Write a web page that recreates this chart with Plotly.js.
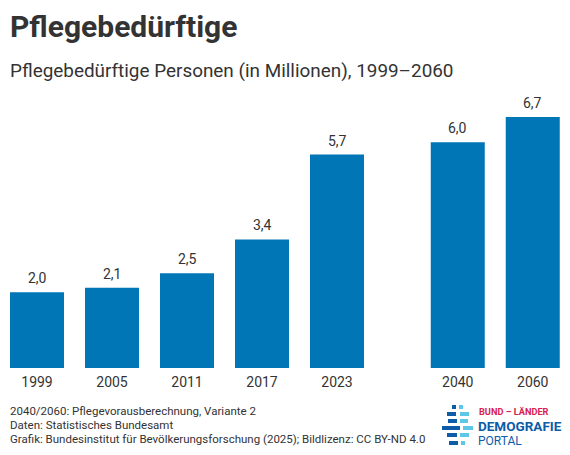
<!DOCTYPE html>
<html><head><meta charset="utf-8">
<script src="https://cdn.plot.ly/plotly-3.0.1.min.js"></script>
<style>html,body{margin:0;padding:0;background:#fff}</style></head>
<body><div id="c" style="width:570px;height:455px"></div>
<script>
const years = ['1999','2005','2011','2017','2023','2040','2060'];
const values = [2.02,2.14,2.53,3.43,5.69,6.02,6.69];
const slots = [0,1,2,3,4,5.61,6.61];
const FONT = 'Roboto, sans-serif';
const W=570,H=455,T=100,B=87;
const px=x=>x/W, py=y=>(H-B-y)/(H-T-B);
const logoDark=[[452,456,405,409],[447,456,412,416],[448,457,419,423],[442,460,426,430],[447,457,433,437],[449,458,441,445]];
const logoLight=[[459,463,405,409],[460,469,412,416],[460,468,419,423],[463,473,426,430],[460,469,433,437],[461,465,441,445]];
const rect=(r,c)=>({type:'rect',xref:'paper',yref:'paper',x0:px(r[0]),x1:px(r[1]),y0:py(r[3]),y1:py(r[2]),fillcolor:c,line:{width:0}});
const txt=(t,x,y,size,color,extra)=>Object.assign({text:t,xref:'paper',yref:'paper',x:px(x-2),y:py(y),xanchor:'left',yanchor:'middle',showarrow:false,align:'left',font:{family:FONT,size:size,color:color}},extra||{});
const ink='#333333';
const barLabels=values.map((v,i)=>({text:v.toFixed(1).replace('.',','),x:slots[i],y:v,xref:'x',yref:'y',xanchor:'center',yanchor:'bottom',yshift:4,showarrow:false,font:{family:FONT,size:14,color:ink}}));
Plotly.newPlot('c',[{
  type:'bar',x:slots,y:values,width:0.72,
  marker:{color:'#0076b6'},hoverinfo:'skip'
}],{
  width:W,height:H,margin:{l:0,r:0,t:T,b:B},
  paper_bgcolor:'#fff',plot_bgcolor:'#fff',showlegend:false,
  xaxis:{range:[-37/75,533/75],tickmode:'array',tickvals:slots,ticktext:years,showgrid:false,zeroline:false,ticks:'',showline:false,ticklabelstandoff:4,tickfont:{family:FONT,size:14,color:ink}},
  yaxis:{range:[0,268/37.5],visible:false},
  shapes:[...logoDark.map(r=>rect(r,'#0d5ca8')),...logoLight.map(r=>rect(r,'#5cc8e6'))],
  annotations:[...barLabels,
    txt('<b>Pflegebedürftige</b>',10,26,30,ink),
    txt('Pflegebedürftige Personen (in Millionen), 1999–2060',10,70.5,18.9,ink),
    txt('2040/2060: Pflegevorausberechnung, Variante 2',10,411,11.5,ink),
    txt('Daten: Statistisches Bundesamt',10,425,11.5,ink),
    txt('Grafik: Bundesinstitut für Bevölkerungsforschung (2025); Bildlizenz: CC BY-ND 4.0',10,439,11.5,ink),
    txt('<b>BUND – LÄNDER</b>',479,411,9.2,'#d9204f'),
    txt('<b>DEMOGRAFIE</b>',478,425.5,13.5,'#0d5ca8'),
    txt('PORTAL',478,440.5,12,'#0d5ca8')
  ]
},{staticPlot:true,displayModeBar:false});
</script></body></html>
